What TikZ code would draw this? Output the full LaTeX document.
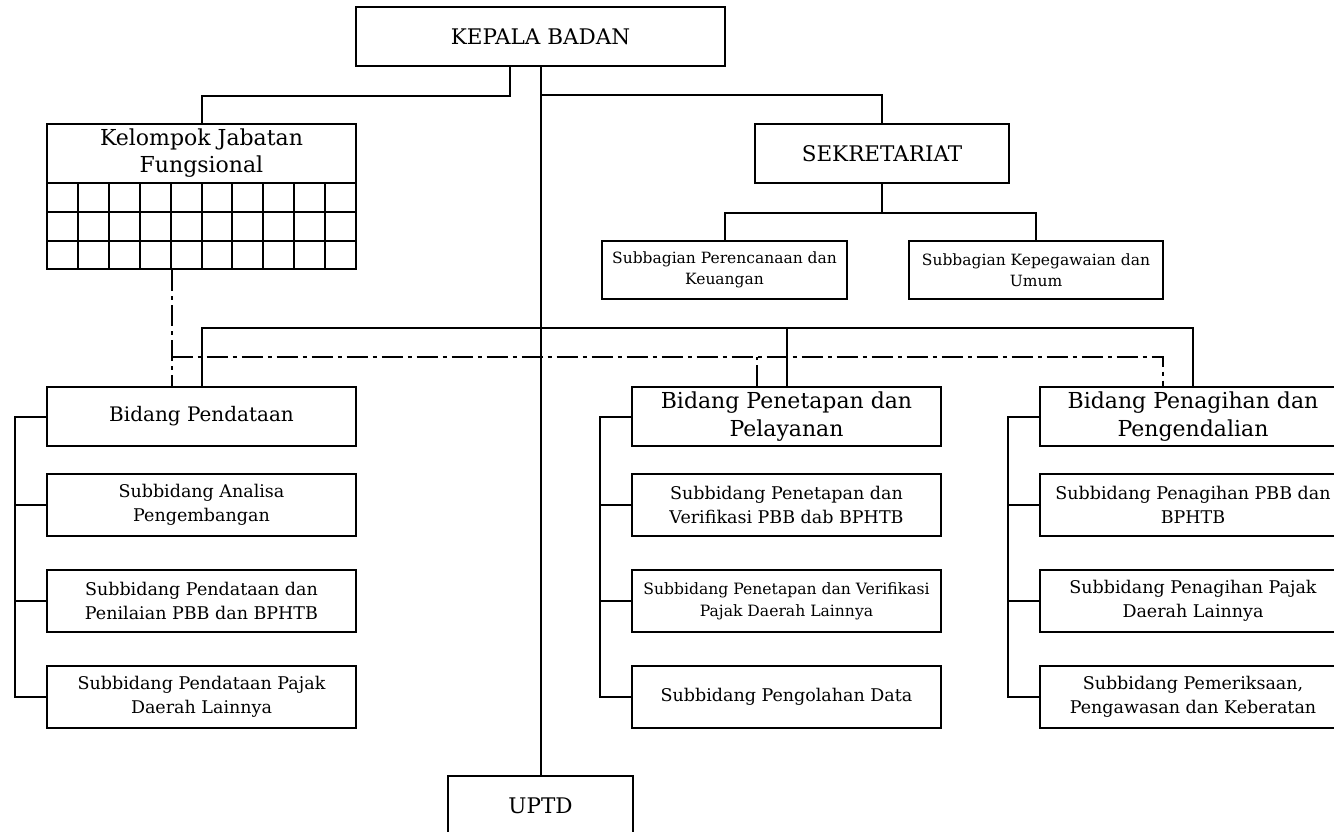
\documentclass[tikz,border=0pt]{standalone}
\usepackage{fontspec}
\setmainfont{DejaVu Serif}

\begin{document}
\begin{tikzpicture}[x=1pt, y=-1pt, line width=2pt,
    unit/.style={draw, align=center, inner sep=2pt, font=\fontsize{21.5}{27}\selectfont, minimum height=59pt},
    subunit/.style={draw, align=center, inner sep=2pt, font=\fontsize{17.5}{24}\selectfont, minimum width=309pt, minimum height=62pt},
    subbagian/.style={subunit, font=\fontsize{15.5}{21}\selectfont, minimum height=58pt},
    staff/.style={dash pattern=on 21pt off 5pt on 4pt off 5pt}]
    \useasboundingbox (0,0) rectangle (1334,832);
    \clip (0,0) rectangle (1334,832);
    \node[unit, minimum width=369pt] (kepala badan) at (540.5, 36.5) {KEPALA BADAN};
    \node[unit, minimum width=309pt, font=\fontsize{22}{27}\selectfont] (kelompok) at (201.5, 153.5) {Kelompok Jabatan \\ Fungsional};
    \node[draw, minimum width=309pt, minimum height=86pt, inner sep=0pt] (fungsional grid) at (201.5, 226) {};
    \foreach \i in {1,...,9}
        \draw ({47+30.9*\i}, 183) -- ({47+30.9*\i}, 269);
    \foreach \j in {212, 241}
        \draw (47, \j) -- (356, \j);
    \node[unit, minimum width=254pt] (sekretariat) at (882, 153.5) {SEKRETARIAT};
    \node[subbagian, minimum width=245pt] (perencanaan) at (724.5, 270) {Subbagian Perencanaan dan \\ Keuangan};
    \node[subbagian, minimum width=254pt] (kepegawaian) at (1036, 270) {Subbagian Kepegawaian dan \\ Umum};
    \node[unit, minimum width=309pt, font=\fontsize{20}{27}\selectfont] (pendataan) at (201.5, 416.5) {Bidang Pendataan};
    \node[unit, minimum width=309pt, font=\fontsize{22}{28}\selectfont] (penetapan) at (786.5, 416.5) {Bidang Penetapan dan \\ Pelayanan};
    \node[unit, minimum width=306pt, font=\fontsize{22}{28}\selectfont] (penagihan) at (1193, 416.5) {Bidang Penagihan dan \\ Pengendalian};
    \node[subunit] (analisa) at (201.5, 505) {Subbidang Analisa \\ Pengembangan};
    \node[subunit] (penilaian) at (201.5, 601) {Subbidang Pendataan dan \\ Penilaian PBB dan BPHTB};
    \node[subunit] (pajak pendataan) at (201.5, 697) {Subbidang Pendataan Pajak \\ Daerah Lainnya};
    \node[subunit] (verifikasi pbb) at (786.5, 505) {Subbidang Penetapan dan \\ Verifikasi PBB dab BPHTB};
    \node[subunit, font=\fontsize{15.6}{22}\selectfont] (verifikasi pajak) at (786.5, 601) {Subbidang Penetapan dan Verifikasi \\ Pajak Daerah Lainnya};
    \node[subunit] (pengolahan) at (786.5, 697) {Subbidang Pengolahan Data};
    \node[subunit, minimum width=306pt] (penagihan pbb) at (1193, 505) {Subbidang Penagihan PBB dan \\ BPHTB};
    \node[subunit, minimum width=306pt] (penagihan pajak) at (1193, 601) {Subbidang Penagihan Pajak \\ Daerah Lainnya};
    \node[subunit, minimum width=306pt] (pemeriksaan) at (1193, 697) {Subbidang Pemeriksaan, \\ Pengawasan dan Keberatan};
    \node[unit, minimum width=185pt, minimum height=60pt] (uptd) at (540.5, 806) {UPTD};
    \coordinate (sekretariat bus) at (540.5, 95);
    \coordinate (bidang bus) at (540.5, 328);
    \draw ([xshift=-31pt]kepala badan.south) -- ++(0, 29) -| (kelompok.north);
    \draw (kepala badan.south) -- (uptd.north);
    \draw (sekretariat bus) -| (sekretariat.north);
    \draw (sekretariat.south) -- ++(0, 29) coordinate (subbagian bus);
    \draw (perencanaan.north) |- (subbagian bus) -| (kepegawaian.north);
    \draw (pendataan.north) |- (bidang bus) -| (penagihan.north);
    \draw (penetapan.north) -- (penetapan.north |- bidang bus);
    \path ([xshift=-30pt]pendataan.north) ++(0, -29) coordinate (staff bus);
    \draw[staff] ([xshift=-30pt]fungsional grid.south) -- ([xshift=-30pt]pendataan.north);
    \draw[staff] (staff bus) -| ([xshift=-30pt]penagihan.north);
    \draw[staff] ([xshift=-30pt]penetapan.north) -- ++(0, -29);
    \foreach \b/\s in {pendataan/pajak pendataan, penetapan/pengolahan, penagihan/pemeriksaan}
        \draw (\b.west) -- ++(-31, 0) |- (\s.west);
    \foreach \s in {analisa, penilaian, verifikasi pbb, verifikasi pajak, penagihan pbb, penagihan pajak}
        \draw (\s.west) -- ++(-31, 0);
\end{tikzpicture}
\end{document}
